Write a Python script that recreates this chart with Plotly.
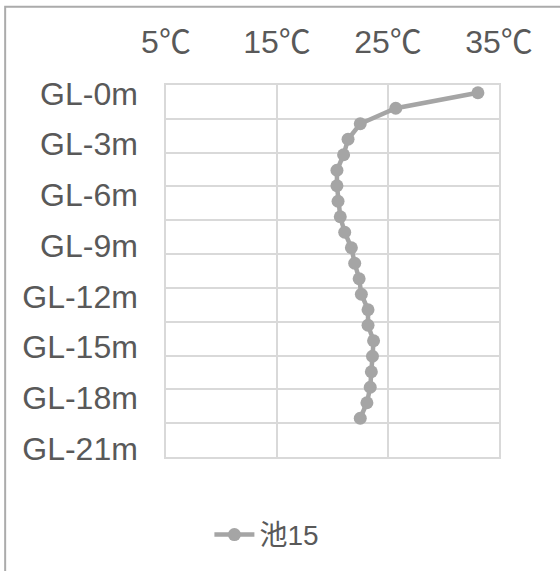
import plotly.graph_objects as go

# Data
depth_m = [0, 1, 2, 3, 4, 5, 6, 7, 8, 9, 10, 11, 12, 13, 14, 15, 16, 17, 18, 19, 20, 21]
temp_c = [33.1, 25.7, 22.5, 21.4, 21.0, 20.4, 20.4, 20.5, 20.7, 21.1, 21.7, 22.0,
          22.4, 22.6, 23.2, 23.2, 23.7, 23.6, 23.5, 23.4, 23.1, 22.5]
series_name = "池15"

depth_label_vals = [0, 3, 6, 9, 12, 15, 18, 21]
depth_label_text = ["GL-0m", "GL-3m", "GL-6m", "GL-9m", "GL-12m", "GL-15m", "GL-18m", "GL-21m"]
depth_grid_vals = [-0.5, 1.5, 3.5, 5.5, 7.5, 9.5, 11.5, 13.5, 15.5, 17.5, 19.5, 21.5]
temp_ticks = [5, 15, 25, 35]

GRAY = "#A5A5A5"
GRID = "#D9D9D9"
TEXT = "#595959"
FONT = "Liberation Sans, Arial, Noto Sans CJK JP, sans-serif"

fig = go.Figure()
# empty trace so the depth-label axis is instantiated and drawn
fig.add_trace(go.Scatter(x=[], y=[], yaxis="y", showlegend=False, hoverinfo="skip"))
fig.add_trace(go.Scatter(
    x=temp_c, y=depth_m, name=series_name, yaxis="y2",
    mode="lines+markers",
    line=dict(color=GRAY, width=4.5),
    marker=dict(color=GRAY, size=13),
    showlegend=True,
))

fig.update_layout(
    width=560, height=571,
    margin=dict(l=166, r=61, t=85, b=113),
    paper_bgcolor="white", plot_bgcolor="white",
    font=dict(family=FONT, color=TEXT, size=32),
    xaxis=dict(
        side="top", range=[5, 35], tickvals=temp_ticks,
        ticktext=[f"{t}℃" for t in temp_ticks],
        showgrid=True, gridcolor=GRID, gridwidth=1.5, zeroline=False,
        showline=True, mirror=True, linecolor=GRID, linewidth=1.5,
        ticks="", ticklabelstandoff=17,
        tickfont=dict(size=32, color=TEXT),
    ),
    yaxis=dict(
        type="linear",
        range=[21.5, -0.5], tickmode="array", tickvals=depth_label_vals, ticktext=depth_label_text,
        showgrid=False, zeroline=False,
        showline=True, mirror=True, linecolor=GRID, linewidth=1.5,
        ticks="", ticklabelstandoff=20,
        tickfont=dict(size=32, color=TEXT),
        minor=dict(tickmode="array", tickvals=depth_grid_vals, showgrid=True,
                   gridcolor=GRID, gridwidth=1.5, ticks=""),
    ),
    yaxis2=dict(
        type="linear", overlaying="y", range=[23.5, -0.5], visible=False, showgrid=False,
    ),
    legend=dict(
        orientation="h", x=0.303, xanchor="center", y=-0.206, yanchor="middle",
        font=dict(size=28, color=TEXT), itemwidth=40,
    ),
    shapes=[dict(
        type="rect", xref="paper", yref="paper",
        x0=-0.483, x1=2.0, y0=-2.0, y1=1.2105,
        line=dict(color="#ABABAB", width=2), fillcolor="rgba(0,0,0,0)", layer="below",
    )],
)

fig.write_html("out.html", config={"displayModeBar": False},
               post_script="document.body.style.margin='0px';")
